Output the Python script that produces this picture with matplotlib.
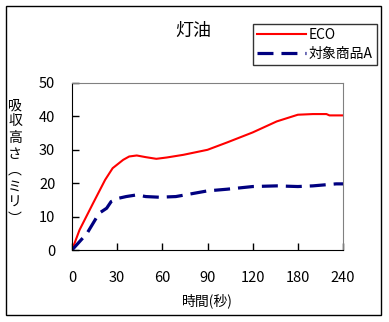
import numpy as np
import matplotlib.pyplot as plt
from matplotlib.patches import Rectangle

plt.rcParams['font.family'] = ['Noto Sans CJK JP', 'DejaVu Sans']

# category axis: labels are evenly spaced although the seconds are not
tick_sec = [0, 30, 60, 90, 120, 180, 240]
tick_labels = ['0', '30', '60', '90', '120', '180', '240']

eco_t = [0, 5, 14, 22, 27, 34, 38, 43, 49, 56, 63, 74, 90, 103, 120, 152, 180, 200, 218, 222, 240]
eco_h = [0, 6, 14, 21, 24.5, 27, 28, 28.3, 27.8, 27.3, 27.7, 28.5, 30, 32.2, 35.2, 38.5, 40.5, 40.7, 40.7, 40.3, 40.3]

prod_t = [0, 6, 10, 18, 23, 26, 31, 36, 43, 49, 58, 69, 90, 103, 120, 152, 180, 200, 231, 240]
prod_h = [0, 3, 5, 11, 12.5, 14.5, 15.5, 16, 16.5, 16, 15.8, 16, 17.7, 18.2, 19, 19.2, 19, 19.2, 19.8, 19.8]

def to_pos(t):
    return np.interp(t, tick_sec, np.arange(len(tick_sec)))

fig = plt.figure(figsize=(3.89, 3.22), dpi=100)
ax = fig.add_axes([72/389, 1 - 250/322, (343 - 72)/389, (250 - 83)/322])

ax.plot(to_pos(eco_t), eco_h, color='#ff0000', lw=1.5, label='ECO')
ax.plot(to_pos(prod_t), prod_h, color='#000080', lw=2.3, dashes=(5, 2.5), label='対象商品A')

ax.set_xlim(0, len(tick_sec) - 1)
ax.set_ylim(0, 50)
ax.set_xticks(np.arange(len(tick_sec)))
ax.set_xticklabels(tick_labels)
ax.set_yticks(range(0, 51, 10))
ax.tick_params(direction='in', length=5, width=1, labelsize=10.5, color='black')
ax.tick_params(axis='x', pad=15)
ax.tick_params(axis='y', pad=12)
for s in ['left', 'bottom']:
    ax.spines[s].set_color('black')
for s in ['top', 'right']:
    ax.spines[s].set_color('#808080')

ax.set_xlabel('時間(秒)', fontsize=10, labelpad=6)
fig.text(15/389, 1 - 162/322, '吸\n収\n高\nさ\n︵\nミ\nリ\n︶', fontsize=10,
         ha='center', va='center', linespacing=1.2)

fig.text(193/389, 1 - 31/322, '灯油', fontsize=13, ha='center', va='center')

leg = fig.legend(loc='upper left', bbox_to_anchor=(253/389, 1 - 24/322), fontsize=10,
                 frameon=True, fancybox=False, edgecolor='black', borderpad=0.3,
                 handlelength=3.5, handletextpad=0.2, labelspacing=0.35, borderaxespad=0)
leg.get_frame().set_linewidth(1)

fig.patches.append(Rectangle((6/389, 1 - 315/322), 375/389, 309/322, transform=fig.transFigure,
                             fill=False, edgecolor='black', lw=1))

fig.savefig('out.png', dpi=100)
